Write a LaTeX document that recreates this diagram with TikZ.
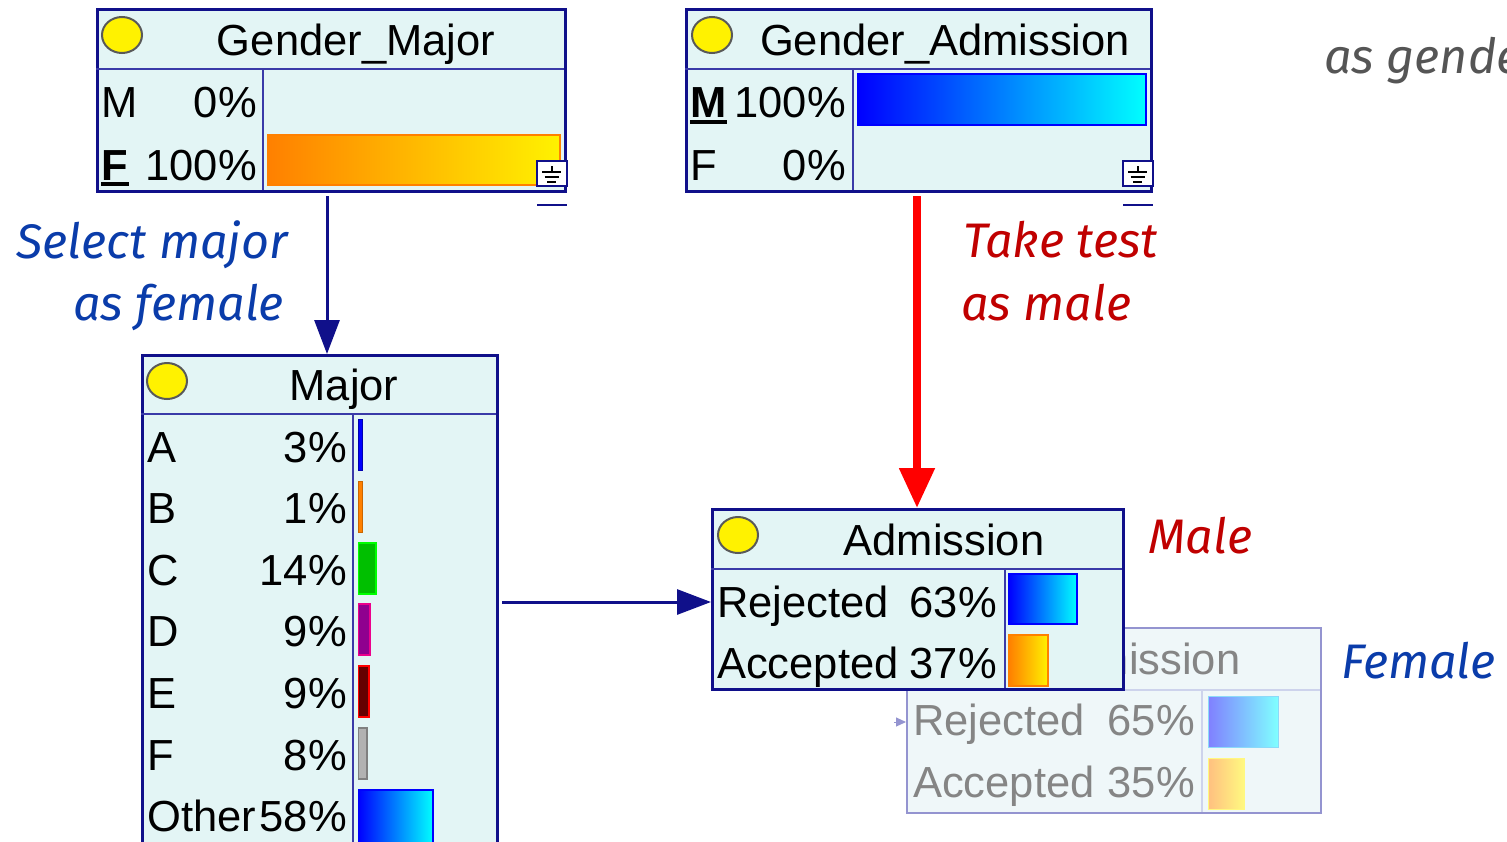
\documentclass[tikz,border=0pt]{standalone}
\usepackage{fontspec}
\setmainfont{Liberation Sans}
\newfontfamily\notefont{Fira Sans}
\usetikzlibrary{arrows.meta}

\definecolor{nodefill}{HTML}{E3F5F5}
\definecolor{nodeline}{HTML}{10108A}
\definecolor{sepline}{HTML}{3A3AA8}
\definecolor{fadefill}{HTML}{EFF7F9}
\definecolor{fadeline}{HTML}{9494D0}
\definecolor{fadesep}{HTML}{CDD3EC}
\definecolor{fadetext}{HTML}{858585}
\definecolor{noteblue}{HTML}{0A3CAA}
\definecolor{notered}{HTML}{C00000}
\definecolor{notegray}{HTML}{555555}
\definecolor{barorange}{HTML}{FF8000}
\definecolor{baryellow}{HTML}{FFF200}

\tikzset{
  box/.style={rectangle, draw=nodeline, line width=3pt, fill=nodefill, anchor=north west, inner sep=0pt},
  fadebox/.style={rectangle, draw=fadeline, line width=2pt, fill=fadefill, anchor=north west, inner sep=0pt},
  sep/.style={draw=sepline, line width=1.2pt},
  fsep/.style={draw=fadesep, line width=1.2pt},
  txt/.style={inner sep=0pt, font=\fontsize{43.5}{50}\selectfont},
  ltxt/.style={txt, anchor=base west},
  rtxt/.style={txt, anchor=base east},
  ftxt/.style={txt, text=fadetext},
  lamp/.style={fill=yellow, draw=black!65, line width=2pt},
  bluebar/.style={left color=blue, right color=cyan, draw=blue, line width=1.8pt},
  orangebar/.style={left color=barorange, right color=baryellow, draw=barorange, line width=1.8pt},
  fbluebar/.style={left color=blue!50, right color=cyan!50, draw=cyan!45, line width=1pt},
  forangebar/.style={left color=barorange!50, right color=baryellow!50, draw=baryellow!50, line width=1pt},
  ubar/.style={line width=4pt},
  ground/.style={draw=nodeline, line width=2pt, fill=white},
  gsym/.style={line width=2.2pt, black},
  note/.style={inner sep=0pt, font=\notefont\itshape\fontsize{48.5}{55}\selectfont},
  navyarrow/.style={draw=nodeline, line width=3pt, -{Triangle[length=34pt,width=25pt]}},
  redarrow/.style={draw=red, line width=8pt, -{Triangle[length=40pt,width=34pt]}},
  fadearrow/.style={draw=fadeline, line width=1pt, -{Triangle[length=10pt,width=9pt]}},
}

\begin{document}
\begin{tikzpicture}[x=1pt,y=-1pt]
\useasboundingbox (0,0) rectangle (1507,841);
\clip (0,0) rectangle (1507,841);
\fill[white] (0,0) rectangle (1507,841);

% ---------- Gender_Major ----------
\node[box, minimum width=468pt, minimum height=182pt] (gm) at (96,8) {};
\draw[sep] (96,69) -- (564,69);
\draw[sep] (263,69) -- (263,190);
\draw[lamp] (122,35) ellipse [x radius=20, y radius=18];
\node[txt, anchor=base] at (356,55) {Gender\_Major};
\node[ltxt] at (101,117) {M};
\node[rtxt] at (257,117) {0\%};
\node[ltxt] (gmF) at (101,180) {\bfseries F};
\draw[ubar] (101,184) -- (129,184);
\node[rtxt] at (257,180) {100\%};
\path[orangebar] (268,135) rectangle (560,185);
\draw[ground] (537,161) rectangle (567,186);
\draw[gsym] (552,166) -- (552,172) (542,172) -- (561,172) (544.5,177) -- (558.5,177) (547,182) -- (556,182);
\draw[draw=nodeline, line width=2.5pt] (537,205) -- (567,205);

% ---------- Gender_Admission ----------
\node[box, minimum width=465pt, minimum height=182pt] (ga) at (685,8) {};
\draw[sep] (685,69) -- (1150,69);
\draw[sep] (853,69) -- (853,190);
\draw[lamp] (712,35) ellipse [x radius=20, y radius=18];
\node[txt, anchor=base] at (945,55) {Gender\_Admission};
\node[ltxt] at (690,117) {\bfseries M};
\draw[ubar] (690,122) -- (727,122);
\node[rtxt] at (846,117) {100\%};
\node[ltxt] at (690,180) {F};
\node[rtxt] at (846,180) {0\%};
\path[bluebar] (858,74) rectangle (1146,125);
\draw[ground] (1123,161) rectangle (1153,186);
\draw[gsym] (1138,166) -- (1138,172) (1128,172) -- (1147,172) (1130.5,177) -- (1144.5,177) (1133,182) -- (1142,182);
\draw[draw=nodeline, line width=2.5pt] (1123,205) -- (1153,205);

% ---------- Major ----------
\node[box, minimum width=355pt, minimum height=520pt] (major) at (141,354) {};
\draw[sep] (141,414) -- (496,414);
\draw[sep] (353,414) -- (353,880);
\draw[lamp] (167,381) ellipse [x radius=20, y radius=18];
\node[txt, anchor=base] at (344,400) {Major};
\foreach \lab/\pct [count=\i from 0] in {A/3, B/1, C/14, D/9, E/9, F/8, Other/58} {
  \node[ltxt] at (147,462+61.6*\i) {\lab};
  \node[rtxt] at (347,462+61.6*\i) {\pct\%};
}
\path[fill=blue, draw=blue!70!black, line width=1pt] (358.5,419) rectangle (362.5,470);
\path[fill=barorange, draw=barorange!80!black, line width=1pt] (358.5,481) rectangle (362.5,532);
\path[fill=green!75!black, draw=green, line width=1.5pt] (358.5,543) rectangle (376,594);
\path[fill=violet!60!magenta!80!black, draw=magenta, line width=1.5pt] (358.5,604) rectangle (370,655);
\path[fill=red!40!black, draw=red, line width=1.5pt] (358.5,666) rectangle (369,717);
\path[fill=gray!60, draw=gray, line width=1.5pt] (358.5,728) rectangle (367,779);
\path[bluebar] (358.5,790) rectangle (433,860);

% ---------- Admission, female view (behind) ----------
\node[fadebox, minimum width=414pt, minimum height=185pt] (fad) at (906,627) {};
\draw[fsep] (906,690) -- (1320,690);
\draw[fsep] (1202,690) -- (1202,812);
\node[ftxt, anchor=base] at (1140,674) {Admission};
\node[ftxt, anchor=base west] at (913,735) {Rejected};
\node[ftxt, anchor=base east] at (1195,735) {65\%};
\node[ftxt, anchor=base west] at (913,797) {Accepted};
\node[ftxt, anchor=base east] at (1195,797) {35\%};
\path[fbluebar] (1208,696) rectangle (1278,747);
\path[forangebar] (1208,758) rectangle (1244,809);
\coordinate (fadein) at (894,722);
\draw[fadearrow] (fadein) -- (fadein -| fad.west);

% ---------- Admission, male view ----------
\node[box, minimum width=411pt, minimum height=180pt] (adm) at (711,508) {};
\draw[sep] (711,569) -- (1122,569);
\draw[sep] (1005,569) -- (1005,688);
\draw[lamp] (738,535) ellipse [x radius=20, y radius=18];
\node[txt, anchor=base] at (944,555) {Admission};
\node[ltxt] at (717,617) {Rejected};
\node[rtxt] at (997,617) {63\%};
\node[ltxt] at (717,678) {Accepted};
\node[rtxt] at (997,678) {37\%};
\path[bluebar] (1009,574) rectangle (1077,624);
\path[orangebar] (1009,635) rectangle (1048,686);

% ---------- Connectors ----------
\coordinate (gmx) at (327,0);
\draw[navyarrow] ([yshift=-3pt]gm.south -| gmx) -- (major.north -| gmx);
\coordinate (gax) at (917,0);
\draw[redarrow] ([yshift=-3pt]ga.south -| gax) -- (adm.north -| gax);
\coordinate (row) at (0,602);
\draw[navyarrow] ([xshift=3pt]major.east |- row) -- (adm.west |- row);

% ---------- Notes ----------
\node[note, text=noteblue, anchor=base east] at (288,258) {Select major};
\node[note, text=noteblue, anchor=base east] at (284,320) {as female};
\node[note, text=notered, anchor=base west] at (963,257) {Take test};
\node[note, text=notered, anchor=base west] at (961,320) {as male};
\node[note, text=notered, anchor=base west] at (1148,553) {Male};
\node[note, text=noteblue, anchor=base west] at (1341,678) {Female};
\node[note, text=notegray, anchor=base west] at (1324,73) {as gender};
\end{tikzpicture}
\end{document}
